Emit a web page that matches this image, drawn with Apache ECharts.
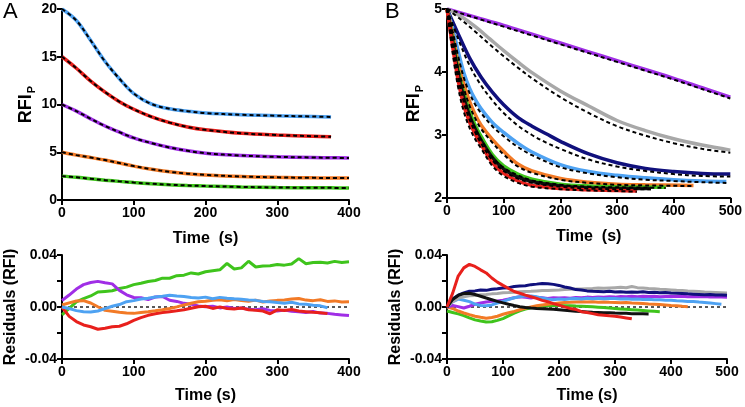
<!DOCTYPE html>
<html><head><meta charset="utf-8">
<script src="https://cdn.jsdelivr.net/npm/echarts@6/dist/echarts.min.js"></script>
<style>html,body{margin:0;padding:0;background:#fff}#c{width:745px;height:407px}</style>
</head><body><div id="c"></div>
<script>
// ---------- Panel A, top: RFI_P traces (fits coincide with data) ----------
const tA = [0,20,40,60,80,100,125,150,175,200,250,300,350,375,400];
const aBlue   = [20,18.8,16.7,14.5,12.7,11.15,10.05,9.55,9.3,9.1,8.92,8.82,8.74,8.7];
const aRed    = [15,13.8,12.45,11.3,10.3,9.5,8.7,8.1,7.65,7.35,6.98,6.8,6.68,6.62];
const aPurple = [10,9.3,8.5,7.75,7.1,6.5,5.95,5.5,5.15,4.9,4.65,4.52,4.45,4.42,4.4];
const aOrange = [5,4.7,4.45,4.18,3.87,3.55,3.22,2.95,2.76,2.63,2.46,2.37,2.32,2.31,2.3];
const aGreen  = [2.5,2.38,2.22,2.08,1.95,1.83,1.7,1.6,1.52,1.46,1.37,1.31,1.28,1.27,1.26];

// ---------- Panel A, bottom: residuals ----------
const tRA = [0,10,20,30,40,50,60,70,80,90,100,110,120,130,140,150,160,170,180,190,200,210,220,230,240,250,260,270,280,290,300,310,320,330,340,350,360,370,380,390,400];
const rAGreen  = [-0.006,-0.001,0.004,0.0065,0.0085,0.0115,0.012,0.0125,0.0142,0.0153,0.0172,0.0183,0.0196,0.0204,0.0222,0.0221,0.0241,0.0245,0.0262,0.0254,0.0271,0.0279,0.0286,0.0335,0.0292,0.0301,0.0352,0.0308,0.0316,0.0318,0.0327,0.0322,0.0331,0.0372,0.0333,0.0342,0.0344,0.0338,0.0351,0.0343,0.0348];
const rAPurple = [0.005,0.0092,0.0138,0.0172,0.0188,0.0197,0.0186,0.0178,0.0128,0.0094,0.0073,0.0071,0.0058,0.0077,0.0081,0.0052,0.0043,0.0028,0.0022,0.0008,0.0002,0.0006,-0.0007,0.0001,-0.0012,-0.0008,-0.0017,-0.0021,-0.0014,-0.0026,-0.0031,-0.0024,-0.0033,-0.0036,-0.0042,-0.0034,-0.0047,-0.0049,-0.0056,-0.0061,-0.0066];
const rAOrange = [0.0015,0.0032,0.0046,0.0049,0.0031,0.0002,-0.0026,-0.0033,-0.0041,-0.0046,-0.0049,-0.0042,-0.0036,-0.0029,-0.0021,-0.0011,0.0001,0.0016,0.0029,0.0041,0.0044,0.0052,0.0056,0.0048,0.0057,0.0049,0.0044,0.0053,0.0039,0.0046,0.0051,0.0054,0.0062,0.0066,0.0053,0.0049,0.0056,0.0043,0.0047,0.0039,0.0041];
const rABlue   = [0.0,-0.0012,-0.0028,-0.0036,-0.0039,-0.0031,-0.0012,0.0006,0.0019,0.0041,0.0049,0.0062,0.0068,0.0077,0.0083,0.0091,0.0084,0.0081,0.0073,0.0069,0.0076,0.0064,0.0074,0.0068,0.0063,0.0059,0.0053,0.0051,0.0043,0.0041,0.0034,0.0029,0.0036,0.0024,0.0021,0.0013,0.0009,-0.0006];
const rARed    = [0.0,-0.0072,-0.0112,-0.0138,-0.0152,-0.0171,-0.0163,-0.0152,-0.0148,-0.0129,-0.0103,-0.0082,-0.0064,-0.0052,-0.0043,-0.0036,-0.0029,-0.0021,-0.0009,0.0002,0.0006,-0.0011,0.0001,-0.0012,-0.0016,-0.0008,-0.0021,-0.0026,-0.0031,-0.0052,-0.0022,-0.0027,-0.0019,-0.0031,-0.0036,-0.0041,-0.0044,-0.0051];

// ---------- Panel B, top: RFI_P traces [time, value] and fits ----------
const bPurple    = [[0,5],[50,4.87],[100,4.74],[150,4.6],[200,4.46],[250,4.32],[300,4.18],[350,4.04],[400,3.9],[450,3.75],[500,3.6]];
const bPurpleFit = [[0,5],[50,4.86],[100,4.72],[150,4.58],[200,4.44],[250,4.3],[300,4.16],[350,4.02],[400,3.88],[450,3.73],[500,3.58]];
const bGray      = [[0,5],[25,4.88],[50,4.72],[75,4.53],[100,4.34],[125,4.16],[150,3.99],[200,3.7],[250,3.46],[300,3.23],[350,3.07],[400,2.94],[450,2.84],[500,2.76]];
const bGrayFit   = [[0,5],[25,4.83],[50,4.64],[75,4.44],[100,4.25],[125,4.07],[150,3.9],[200,3.6],[250,3.35],[300,3.14],[350,2.99],[400,2.87],[450,2.78],[500,2.72]];
const bNavy      = [[0,5],[20,4.6],[40,4.22],[60,3.92],[80,3.68],[100,3.48],[125,3.28],[150,3.14],[175,3.02],[200,2.9],[250,2.7],[300,2.56],[350,2.47],[400,2.42],[450,2.39],[500,2.38]];
const bNavyFit   = [[0,5],[20,4.52],[40,4.1],[60,3.79],[80,3.55],[100,3.35],[125,3.15],[150,3.0],[175,2.88],[200,2.78],[250,2.61],[300,2.5],[350,2.43],[400,2.38],[450,2.35],[500,2.34]];
const bBlue      = [[0,5],[10,4.7],[20,4.32],[30,3.98],[40,3.74],[50,3.56],[60,3.42],[80,3.2],[100,3.04],[125,2.87],[150,2.73],[200,2.53],[250,2.42],[300,2.36],[350,2.32],[400,2.29],[450,2.27],[493,2.26]];
const bBlueFit   = [[0,5],[10,4.64],[20,4.24],[30,3.9],[40,3.66],[50,3.48],[60,3.35],[80,3.14],[100,2.98],[125,2.81],[150,2.68],[200,2.49],[250,2.39],[300,2.33],[350,2.29],[400,2.27],[450,2.25],[493,2.24]];
const bOrange    = [[0,5],[10,4.6],[20,4.12],[30,3.8],[40,3.53],[50,3.32],[60,3.16],[80,2.93],[100,2.74],[125,2.54],[150,2.43],[200,2.31],[250,2.25],[300,2.22],[350,2.21],[435,2.2]];
const bOrangeFit = [[0,5],[10,4.54],[20,4.05],[30,3.73],[40,3.46],[50,3.26],[60,3.1],[80,2.88],[100,2.69],[125,2.5],[150,2.4],[200,2.29],[250,2.24],[300,2.21],[350,2.2],[435,2.19]];
const bGreen     = [[0,5],[10,4.52],[20,4.02],[30,3.65],[40,3.37],[50,3.15],[60,2.98],[80,2.69],[100,2.51],[125,2.38],[150,2.3],[200,2.22],[250,2.19],[300,2.18],[386,2.17]];
const bGreenFit  = [[0,5],[10,4.46],[20,3.95],[30,3.58],[40,3.31],[50,3.1],[60,2.93],[80,2.65],[100,2.48],[125,2.36],[150,2.28],[200,2.21],[250,2.18],[300,2.17],[386,2.16]];
const bBlack     = [[0,5],[10,4.48],[20,3.96],[30,3.58],[40,3.3],[50,3.09],[60,2.92],[80,2.64],[100,2.46],[125,2.33],[150,2.26],[200,2.19],[250,2.16],[300,2.15],[360,2.15]];
const bBlackFit  = [[0,5],[10,4.42],[20,3.89],[30,3.51],[40,3.24],[50,3.04],[60,2.87],[80,2.6],[100,2.43],[125,2.31],[150,2.24],[200,2.18],[250,2.15],[300,2.14],[360,2.14]];
const bRed       = [[0,5],[10,4.4],[20,3.85],[30,3.46],[40,3.2],[50,3.01],[60,2.85],[80,2.56],[100,2.39],[125,2.27],[150,2.2],[200,2.15],[250,2.13],[300,2.12],[335,2.11]];
const bRedFit    = [[0,5],[10,4.3],[20,3.74],[30,3.36],[40,3.11],[50,2.93],[60,2.79],[80,2.51],[100,2.35],[125,2.24],[150,2.18],[200,2.14],[250,2.12],[300,2.11],[335,2.1]];

// ---------- Panel B, bottom: residuals ----------
const tRB = [0,10,20,30,40,50,60,70,80,90,100,110,120,130,140,150,160,170,180,190,200,210,220,230,240,250,260,270,280,290,300,310,320,330,340,350,360,370,380,390,400,410,420,430,440,450,460,470,480,490,500];
const rBRed    = [0.0,0.0105,0.0238,0.0301,0.0328,0.0312,0.0286,0.0262,0.0223,0.0191,0.0166,0.0142,0.0119,0.0106,0.0091,0.0079,0.0066,0.0051,0.0041,0.0026,0.0014,0.0001,-0.0011,-0.0019,-0.0036,-0.0043,-0.0051,-0.0059,-0.0063,-0.0068,-0.0071,-0.0077,-0.0084,-0.0091];
const rBNavy   = [0.0,0.0062,0.0091,0.0108,0.0121,0.0124,0.0131,0.0128,0.0137,0.0141,0.0146,0.0149,0.0157,0.0161,0.0164,0.0172,0.0176,0.0181,0.0179,0.0174,0.0166,0.0154,0.0146,0.0134,0.0131,0.0124,0.0121,0.0119,0.0117,0.0121,0.0116,0.0118,0.0113,0.0116,0.0114,0.0117,0.0112,0.0114,0.0109,0.0112,0.0108,0.0106,0.0104,0.0101,0.0099,0.0097,0.0095,0.0096,0.0092,0.0093,0.0090];
const rBGray   = [0.0,0.0041,0.0068,0.0079,0.0086,0.0089,0.0094,0.0097,0.0101,0.0104,0.0109,0.0111,0.0114,0.0117,0.0119,0.0121,0.0124,0.0126,0.0127,0.0129,0.0131,0.0134,0.0136,0.0138,0.0139,0.0141,0.0143,0.0146,0.0144,0.0147,0.0149,0.0151,0.0148,0.0157,0.0149,0.0146,0.0143,0.0141,0.0137,0.0134,0.0131,0.0128,0.0126,0.0123,0.0121,0.0119,0.0116,0.0114,0.0112,0.0110,0.0108];
const rBBlack  = [0.0,0.0058,0.0089,0.0104,0.0106,0.0096,0.0083,0.0069,0.0056,0.0043,0.0032,0.0021,0.0011,0.0002,-0.0004,-0.0008,-0.0011,-0.0013,-0.0016,-0.0018,-0.0021,-0.0025,-0.0029,-0.0032,-0.0035,-0.0038,-0.0041,-0.0042,-0.0044,-0.0045,-0.0047,-0.0048,-0.0049,-0.0051,-0.0052,-0.0052,-0.0053];
const rBPurple = [0.0,0.0012,0.0003,-0.0008,0.0006,0.0021,0.0031,0.0038,0.0044,0.0046,0.0052,0.0061,0.0071,0.0079,0.0074,0.0069,0.0076,0.0071,0.0066,0.0071,0.0069,0.0072,0.0068,0.0074,0.0071,0.0076,0.0073,0.0077,0.0075,0.0079,0.0076,0.0081,0.0078,0.0082,0.0079,0.0083,0.0080,0.0082,0.0079,0.0081,0.0083,0.0080,0.0082,0.0079,0.0081,0.0078,0.0080,0.0077,0.0079,0.0076,0.0075];
const rBBlue   = [0.0,0.0039,0.0061,0.0052,0.0041,0.0022,0.0011,0.0009,0.0016,0.0031,0.0042,0.0058,0.0071,0.0079,0.0086,0.0084,0.0078,0.0069,0.0061,0.0056,0.0061,0.0058,0.0063,0.0066,0.0062,0.0067,0.0064,0.0068,0.0063,0.0066,0.0065,0.0062,0.0064,0.0059,0.0061,0.0058,0.0059,0.0055,0.0056,0.0052,0.0051,0.0048,0.0047,0.0043,0.0042,0.0038,0.0035,0.0031,0.0026,0.0021];
const rBOrange = [0.0,-0.0011,-0.0031,-0.0046,-0.0059,-0.0071,-0.0079,-0.0086,-0.0081,-0.0071,-0.0056,-0.0044,-0.0034,-0.0021,-0.0009,0.0001,0.0009,0.0016,0.0021,0.0026,0.0031,0.0034,0.0036,0.0039,0.0041,0.0038,0.0040,0.0037,0.0039,0.0036,0.0035,0.0033,0.0034,0.0031,0.0029,0.0027,0.0024,0.0022,0.0019,0.0016,0.0012,0.0009,0.0005,0.0002];
const rBGreen  = [-0.0031,-0.0042,-0.0053,-0.0066,-0.0084,-0.0099,-0.0108,-0.0116,-0.0114,-0.0103,-0.0089,-0.0069,-0.0048,-0.0029,-0.0016,-0.0006,0.0001,0.0006,0.0009,0.0011,0.0012,0.0010,0.0009,0.0007,0.0006,0.0004,0.0002,-0.0001,-0.0004,-0.0008,-0.0012,-0.0015,-0.0018,-0.0021,-0.0024,-0.0027,-0.0030,-0.0033,-0.0036];

const zeroA = [[0,0],[400,0]];
const zeroB = [[0,0],[500,0]];

const C = {blue:'#4ea2f2', red:'#e8201c', purple:'#a02ee6', orange:'#f27a26', green:'#3fc41c', navy:'#10107c', gray:'#a8a8a8', black:'#111111'};
const FONT = 'Liberation Sans';

function zip(t, v){ return v.map((y,i)=>[t[i], y]); }

function xAx(grid, max, name, gap){
  return {type:'value', gridIndex:grid, min:0, max:max, interval:100,
    name:name, nameLocation:'middle', nameGap:gap,
    nameTextStyle:{fontSize:16, fontWeight:'bold', color:'#000', fontFamily:FONT},
    axisLine:{show:true, onZero:false, lineStyle:{color:'#000', width:2}},
    axisTick:{show:true, length:5, lineStyle:{color:'#000', width:2}},
    axisLabel:{color:'#000', fontWeight:'bold', fontSize:14, fontFamily:FONT, margin:6},
    splitLine:{show:false}};
}
function yAx(grid, min, max, interval, name, gap, fmt, rich){
  const ax = {type:'value', gridIndex:grid, min:min, max:max, interval:interval,
    name:name, nameLocation:'middle', nameGap:gap, nameRotate:90,
    nameTextStyle:{fontSize:16, fontWeight:'bold', color:'#000', fontFamily:FONT},
    axisLine:{show:true, onZero:false, lineStyle:{color:'#000', width:2}},
    axisTick:{show:true, length:5, lineStyle:{color:'#000', width:2}},
    axisLabel:{color:'#000', fontWeight:'bold', fontSize:14, fontFamily:FONT, margin:5, formatter:fmt},
    splitLine:{show:false}};
  if (rich) ax.nameTextStyle.rich = rich;
  return ax;
}
const rfiRich = {
  a:{fontSize:18, fontWeight:'bold', color:'#000', fontFamily:FONT, lineHeight:22},
  b:{fontSize:11, fontWeight:'bold', color:'#000', fontFamily:FONT, lineHeight:22, verticalAlign:'bottom', padding:[0,0,0,1]}
};
const resFmt = v => (Math.abs(Math.abs(v)-0.02) < 1e-9) ? '' : v.toFixed(2);

function dataLine(xi, d, color, w){
  return {type:'line', xAxisIndex:xi, yAxisIndex:xi, data:d, showSymbol:false, smooth:0.35,
    lineStyle:{color:color, width:w}, z:2, silent:true};
}
function fitLine(xi, d){
  return {type:'line', xAxisIndex:xi, yAxisIndex:xi, data:d, showSymbol:false, smooth:0.35,
    lineStyle:{color:'#000', width:2, type:[4,3]}, z:3, silent:true};
}
function resLine(xi, t, v, color){
  return {type:'line', xAxisIndex:xi, yAxisIndex:xi, data:zip(t, v), showSymbol:false, smooth:false,
    lineStyle:{color:color, width:3}, z:2, silent:true};
}
function zeroLine(xi, d){
  return {type:'line', xAxisIndex:xi, yAxisIndex:xi, data:d, showSymbol:false,
    lineStyle:{color:'#000', width:1.3, type:[3,3]}, z:1, silent:true};
}

const option = {
  animation:false,
  backgroundColor:'#fff',
  graphic:[
    {type:'text', left:3, top:1, style:{text:'A', fontSize:22, fill:'#000', fontFamily:FONT}},
    {type:'text', left:385, top:1, style:{text:'B', fontSize:22, fill:'#000', fontFamily:FONT}}
  ],
  grid:[
    {left:62, top:9, width:287, height:191, containLabel:false},
    {left:62, top:255, width:287, height:104, containLabel:false},
    {left:447, top:9, width:284, height:189, containLabel:false},
    {left:447, top:255, width:280, height:104, containLabel:false}
  ],
  xAxis:[ xAx(0,400,'Time  (s)',31), xAx(1,400,'Time (s)',29), xAx(2,500,'Time  (s)',31), xAx(3,500,'Time (s)',29) ],
  yAxis:[
    yAx(0,0,20,5,'{a|RFI}{b|P}',25,null,rfiRich),
    yAx(1,-0.04,0.04,0.02,'Residuals (RFI)',43,resFmt),
    yAx(2,2,5,1,'{a|RFI}{b|P}',22,null,rfiRich),
    yAx(3,-0.04,0.04,0.02,'Residuals (RFI)',43,resFmt)
  ],
  series:[
    dataLine(0, zip(tA,aBlue), C.blue, 3.5), dataLine(0, zip(tA,aRed), C.red, 3.5),
    dataLine(0, zip(tA,aPurple), C.purple, 3.5), dataLine(0, zip(tA,aOrange), C.orange, 3.5),
    dataLine(0, zip(tA,aGreen), C.green, 3.5),
    fitLine(0, zip(tA,aBlue)), fitLine(0, zip(tA,aRed)), fitLine(0, zip(tA,aPurple)),
    fitLine(0, zip(tA,aOrange)), fitLine(0, zip(tA,aGreen)),

    zeroLine(1, zeroA),
    resLine(1, tRA, rAGreen, C.green), resLine(1, tRA, rAPurple, C.purple),
    resLine(1, tRA, rARed, C.red), resLine(1, tRA, rAOrange, C.orange), resLine(1, tRA, rABlue, C.blue),

    dataLine(2, bPurple, C.purple, 3.5), dataLine(2, bGray, C.gray, 3.5), dataLine(2, bNavy, C.navy, 3.5),
    dataLine(2, bBlue, C.blue, 3.5), dataLine(2, bOrange, C.orange, 3.5), dataLine(2, bGreen, C.green, 3.5),
    dataLine(2, bBlack, C.black, 3.5), dataLine(2, bRed, C.red, 3.5),
    fitLine(2, bPurpleFit), fitLine(2, bGrayFit), fitLine(2, bNavyFit), fitLine(2, bBlueFit),
    fitLine(2, bOrangeFit), fitLine(2, bGreenFit), fitLine(2, bBlackFit), fitLine(2, bRedFit),

    zeroLine(3, zeroB),
    resLine(3, tRB, rBGreen, C.green), resLine(3, tRB, rBOrange, C.orange), resLine(3, tRB, rBPurple, C.purple),
    resLine(3, tRB, rBBlue, C.blue), resLine(3, tRB, rBGray, C.gray), resLine(3, tRB, rBNavy, C.navy),
    resLine(3, tRB, rBBlack, C.black), resLine(3, tRB, rBRed, C.red)
  ]
};
const chart = echarts.init(document.getElementById('c'), null, {renderer:'canvas'});
chart.setOption(option);
</script></body></html>
